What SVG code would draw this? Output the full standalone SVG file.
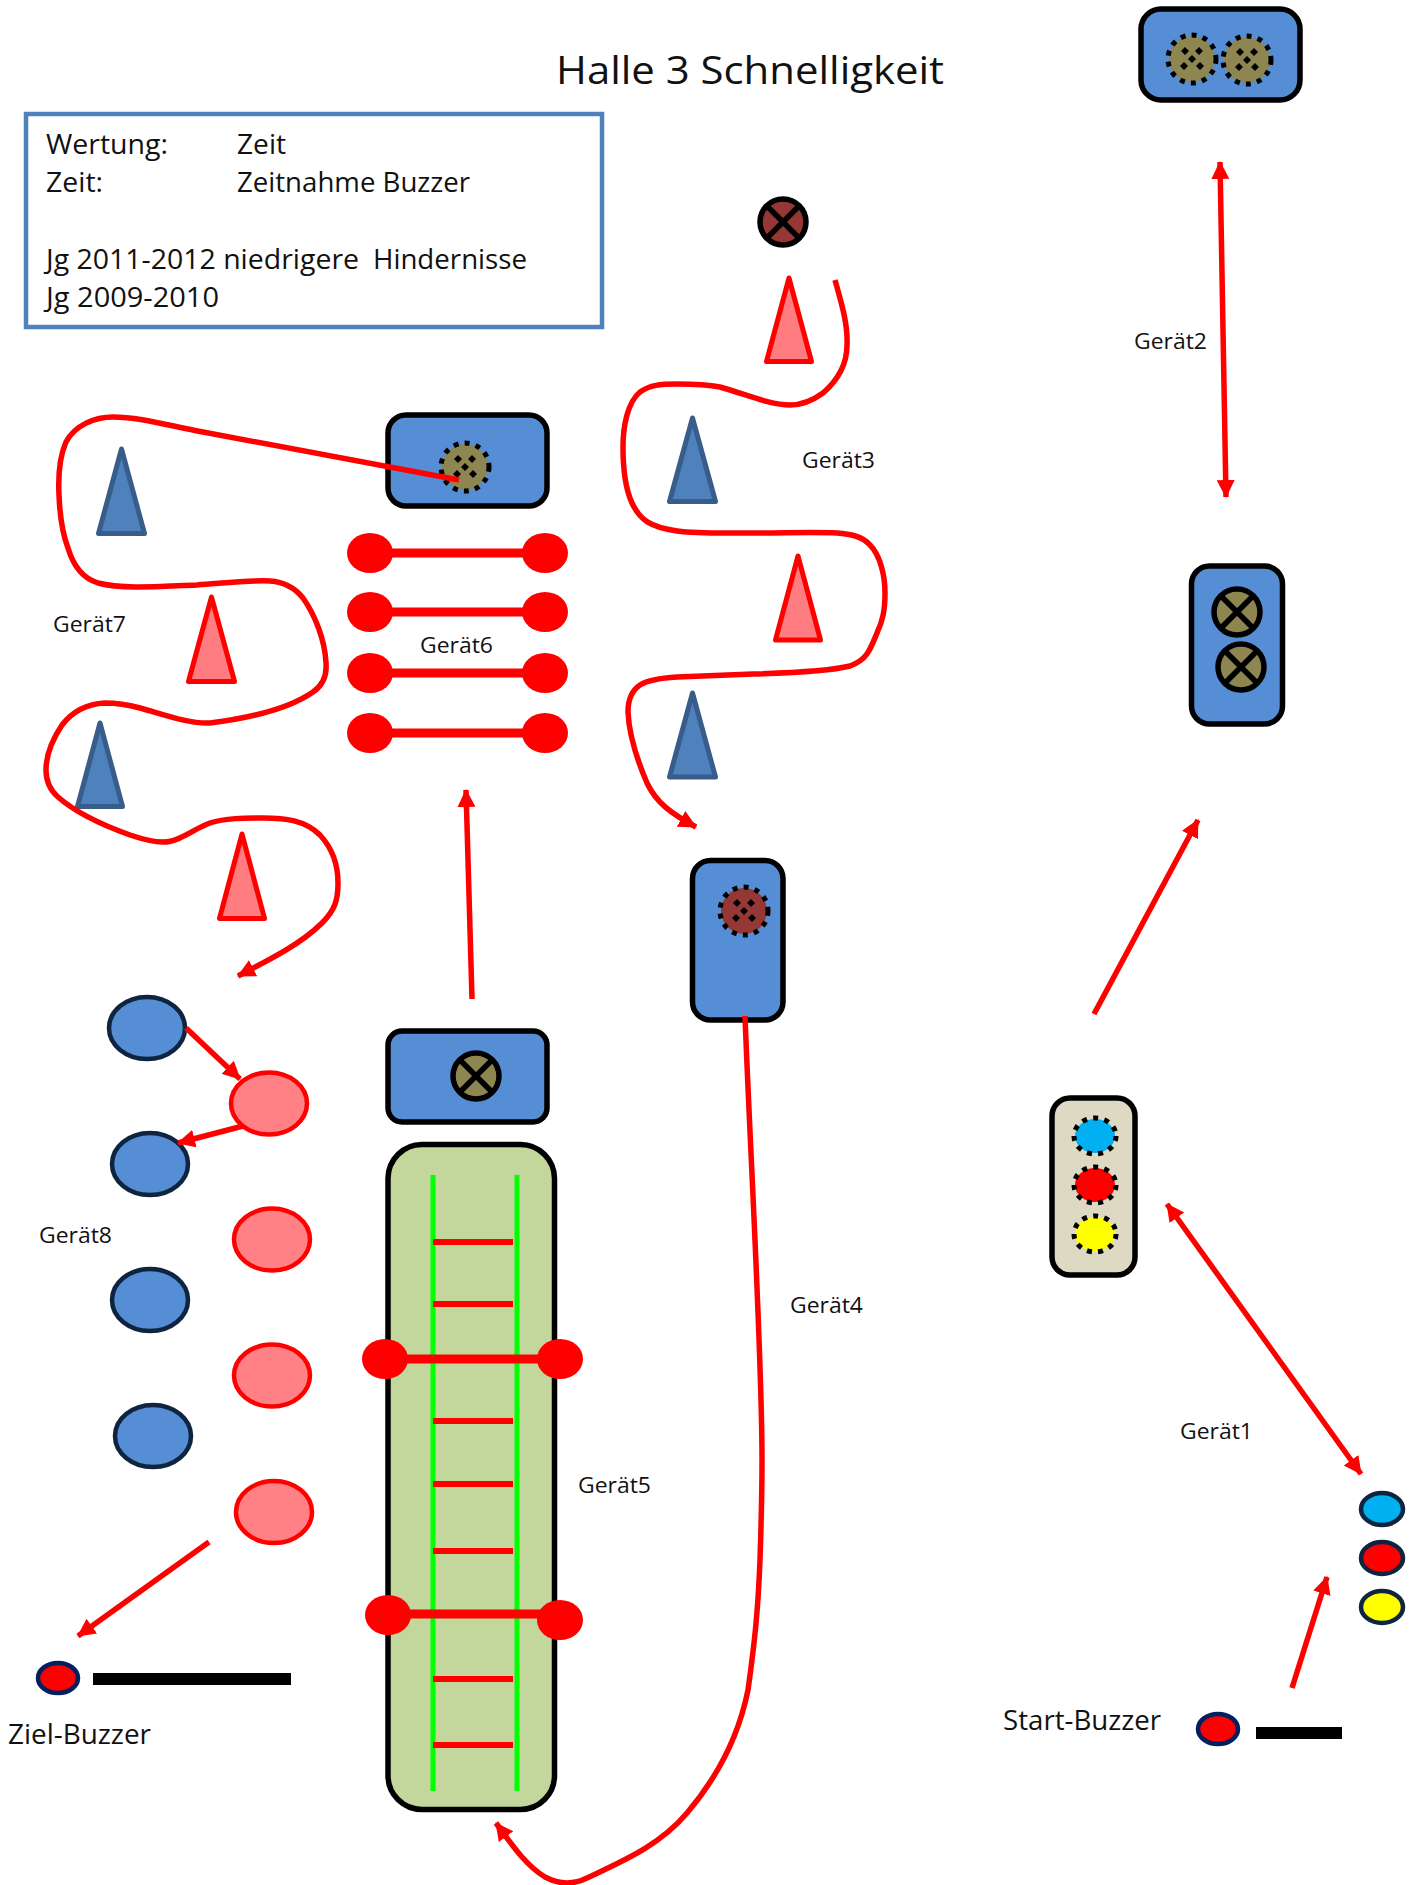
<svg xmlns="http://www.w3.org/2000/svg" width="1422" height="1885" viewBox="0 0 1422 1885">
<style>
text{font-family:"Open Sans","Noto Sans","Liberation Sans",sans-serif;fill:#111}
.t{font-size:39px}.b{font-size:28px}.g{font-size:22px}.l{font-size:27px}
.box{stroke:#000;stroke-width:5.5}
.blue{fill:#558ed5}
.con{fill:none;stroke:#f00;stroke-width:5.5;marker-end:url(#ah)}
.dbl{marker-start:url(#ah)}
.rc{fill:#ff7c80;stroke:#f00;stroke-width:5;stroke-linejoin:round}
.bc{fill:#4f81bd;stroke:#385d8a;stroke-width:5;stroke-linejoin:round}
.re{fill:#ff8085;stroke:#f00;stroke-width:4.5}
.be{fill:#558ed5;stroke:#0f243e;stroke-width:4.5}
.ds{fill:none;stroke:#000;stroke-width:5;stroke-dasharray:5 6.2}
.bz{stroke:#0f243e;stroke-width:4.5}
.bzn{stroke:#002060;stroke-width:4.5;fill:#f00}
.rl{stroke:#f00;stroke-width:9;fill:none}
.rf{fill:#f00}
.rung{stroke:#f00;stroke-width:6}
.gr{stroke:#0f0;stroke-width:5}
</style>
<defs>
<marker id="ah" markerUnits="userSpaceOnUse" markerWidth="20" markerHeight="20" refX="17" refY="9" orient="auto-start-reverse"><path d="M0,0L18,9L0,18Z" fill="#f00"/></marker>
<g id="dot"><circle r="23"/><circle r="24" class="ds"/><path fill="#000" d="M-7,-12l4,4l-4,4l-4,-4zM7,-12l4,4l-4,4l-4,-4zM0,-4l4,4l-4,4l-4,-4zM-8,3l4,4l-4,4l-4,-4zM8,3l4,4l-4,4l-4,-4z"/></g>
<g id="crs"><circle r="23" stroke="#000" stroke-width="5.5"/><path d="M-15,-15L15,15M15,-15L-15,15" stroke="#000" stroke-width="5.5"/></g>
</defs>

<text class="t" x="556" y="84" textLength="388" lengthAdjust="spacingAndGlyphs">Halle 3 Schnelligkeit</text>

<g id="info">
<rect x="26" y="114" width="576" height="213" fill="#fff" stroke="#4f81bd" stroke-width="4.5"/>
<text class="b" x="46" y="154" textLength="122" lengthAdjust="spacingAndGlyphs">Wertung:</text>
<text class="b" x="237" y="154" textLength="49" lengthAdjust="spacingAndGlyphs">Zeit</text>
<text class="b" x="46" y="192" textLength="57" lengthAdjust="spacingAndGlyphs">Zeit:</text>
<text class="b" x="237" y="192" textLength="233" lengthAdjust="spacingAndGlyphs">Zeitnahme Buzzer</text>
<text class="b" x="46" y="269" textLength="313" lengthAdjust="spacingAndGlyphs">Jg 2011-2012 niedrigere</text>
<text class="b" x="373" y="269" textLength="154" lengthAdjust="spacingAndGlyphs">Hindernisse</text>
<text class="b" x="46" y="307" textLength="173" lengthAdjust="spacingAndGlyphs">Jg 2009-2010</text>
</g>

<g id="node-top"><rect class="box blue" x="1141" y="9" width="159" height="91" rx="20"/><use href="#dot" x="1192" y="59" fill="#8e8651"/><use href="#dot" x="1247" y="60" fill="#8e8651"/></g>
<g id="node-right"><rect class="box blue" x="1191.5" y="566" width="91" height="158" rx="18"/><use href="#crs" x="1237" y="612" fill="#8e8651"/><use href="#crs" x="1241" y="667" fill="#8e8651"/></g>
<g id="node-beige"><rect class="box" fill="#ddd9c3" x="1052" y="1098" width="83" height="177" rx="18"/>
<ellipse cx="1095" cy="1136" rx="20" ry="17" fill="#00b0f0"/><ellipse cx="1095" cy="1136" rx="21" ry="18" class="ds"/>
<ellipse cx="1095" cy="1185" rx="20" ry="17" fill="#f00"/><ellipse cx="1095" cy="1185" rx="21" ry="18" class="ds"/>
<ellipse cx="1095" cy="1234" rx="20" ry="17" fill="#ff0"/><ellipse cx="1095" cy="1234" rx="21" ry="18" class="ds"/></g>
<g id="lights"><ellipse class="bz" cx="1382" cy="1509" rx="21" ry="16" fill="#00b0f0"/><ellipse class="bz" cx="1382" cy="1558" rx="21" ry="16" fill="#f00"/><ellipse class="bz" cx="1382" cy="1607" rx="21" ry="16" fill="#ff0"/></g>
<g id="start-buzzer"><ellipse class="bzn" cx="1218" cy="1729" rx="20" ry="15"/><rect x="1256" y="1727" width="86" height="12"/><text class="l" x="1003" y="1730" textLength="158" lengthAdjust="spacingAndGlyphs">Start-Buzzer</text></g>
<g id="ziel-buzzer"><ellipse class="bzn" cx="58" cy="1678" rx="20" ry="15"/><rect x="93" y="1673" width="198" height="12"/><text class="l" x="8" y="1744" textLength="143" lengthAdjust="spacingAndGlyphs">Ziel-Buzzer</text></g>

<g id="node-g4"><rect class="box blue" x="692.5" y="860.5" width="90.5" height="159.5" rx="18"/><use href="#dot" x="744" y="911" fill="#953735"/></g>
<g id="node-g3-end"><use href="#crs" x="783" y="222" fill="#953735"/></g>
<g id="node-g6"><rect class="box blue" x="388" y="415" width="159" height="91" rx="18"/><use href="#dot" x="465" y="467" fill="#8e8651"/></g>
<g id="node-g5"><rect class="box blue" x="388" y="1031" width="159" height="91" rx="14"/><use href="#crs" x="476" y="1076" fill="#8e8651"/></g>

<g id="cones">
<path class="rc" d="M789,278L766.5,361.5H811.5Z"/><path class="bc" d="M692.5,418L669.5,501.5H715.5Z"/><path class="rc" d="M798,556L775.5,640H820.5Z"/><path class="bc" d="M692.5,693L669.5,777H715.5Z"/>
<path class="bc" d="M121.5,449L98.5,533.5H144.5Z"/><path class="rc" d="M211.5,597L188.5,681.5H234.5Z"/><path class="bc" d="M100,723L77.5,806.5H122.5Z"/><path class="rc" d="M242,834L219.5,918.5H264.5Z"/>
</g>
<g id="hurdles">
<path class="rl" d="M370,553H545M370,612H545M370,673H545M370,733H545"/>
<ellipse class="rf" cx="370" cy="553" rx="23" ry="20"/><ellipse class="rf" cx="545" cy="553" rx="23" ry="20"/>
<ellipse class="rf" cx="370" cy="612" rx="23" ry="20"/><ellipse class="rf" cx="545" cy="612" rx="23" ry="20"/>
<ellipse class="rf" cx="370" cy="673" rx="23" ry="20"/><ellipse class="rf" cx="545" cy="673" rx="23" ry="20"/>
<ellipse class="rf" cx="370" cy="733" rx="23" ry="20"/><ellipse class="rf" cx="545" cy="733" rx="23" ry="20"/>
</g>
<g id="ladder">
<rect class="box" fill="#c3d69b" x="388" y="1144.5" width="166.5" height="665" rx="34"/>
<path class="gr" d="M433,1175V1791M517,1175V1791"/>
<path class="rung" d="M433,1242H513M433,1304H513M433,1421H513M433,1484H513M433,1551H513M433,1679H513M433,1745H513"/>
<path class="rl" d="M385,1359H560M388,1614H560"/>
<ellipse class="rf" cx="385" cy="1359" rx="23" ry="20"/><ellipse class="rf" cx="560" cy="1359" rx="23" ry="20"/>
<ellipse class="rf" cx="388" cy="1615" rx="23" ry="20"/><ellipse class="rf" cx="560" cy="1620" rx="23" ry="20"/>
</g>
<g id="slalom-ovals">
<ellipse class="be" cx="147" cy="1028" rx="38" ry="31"/><ellipse class="be" cx="150" cy="1164" rx="38" ry="31"/><ellipse class="be" cx="150" cy="1300" rx="38" ry="31"/><ellipse class="be" cx="153" cy="1436" rx="38" ry="31"/>
<ellipse class="re" cx="269" cy="1103.5" rx="38" ry="31"/><ellipse class="re" cx="272" cy="1239.5" rx="38" ry="31"/><ellipse class="re" cx="272" cy="1375.5" rx="38" ry="31"/><ellipse class="re" cx="274" cy="1512" rx="38" ry="31"/>
</g>

<g id="labels">
<text class="g" x="1134" y="349" textLength="73" lengthAdjust="spacingAndGlyphs">Gerät2</text><text class="g" x="802" y="468" textLength="73" lengthAdjust="spacingAndGlyphs">Gerät3</text><text class="g" x="53" y="632" textLength="73" lengthAdjust="spacingAndGlyphs">Gerät7</text><text class="g" x="420" y="653" textLength="73" lengthAdjust="spacingAndGlyphs">Gerät6</text><text class="g" x="790" y="1313" textLength="73" lengthAdjust="spacingAndGlyphs">Gerät4</text><text class="g" x="578" y="1493" textLength="73" lengthAdjust="spacingAndGlyphs">Gerät5</text><text class="g" x="39" y="1243" textLength="73" lengthAdjust="spacingAndGlyphs">Gerät8</text><text class="g" x="1180" y="1439" textLength="73" lengthAdjust="spacingAndGlyphs">Gerät1</text>
</g>

<g id="connectors">
<path class="con dbl" d="M1220,162L1226,497"/>
<path class="con" d="M1094,1014L1198,820"/>
<path class="con dbl" d="M1167,1204L1361,1474"/>
<path class="con" d="M1292,1688L1327,1577"/>
<path class="con" d="M472,999L466,790"/>
<path class="con" d="M186,1028L240,1079"/>
<path class="con" d="M243,1126L178,1143"/>
<path class="con" d="M209,1542L78,1636"/>
<path class="con" d="M745,1016C750,1150 762,1350 762,1460C762,1500 761,1530 760,1560C758,1610 755,1640 748,1690C738,1740 715,1780 687,1813C660,1845 625,1860 587,1878C575,1884 560,1885 545,1877C525,1865 510,1842 496,1823"/>
<path class="con" d="M835,280C842,305 848,325 847,345C847,365 838,380 823,393C812,401 800,405 790,405C770,405 745,394 720,387C705,384 690,384 677,384C660,384 650,385 640,392C628,402 623,425 623,447C623,470 626,490 632,503C640,520 650,527 677,531C700,534 725,533 753,533C785,533 815,532 837,533C850,534 862,536 870,545C880,555 885,575 885,593C885,610 883,620 877,633C870,650 867,660 850,666C830,671 790,673 753,674C725,675 700,676 677,677C660,678 648,680 640,685C631,691 628,700 628,712C629,735 638,762 647,783C656,802 670,813 696,827"/>
<path class="con" d="M459,480L203,432C170,426 140,417 113,417C95,417 75,425 66,442C59,458 58,475 59,495C60,520 63,535 68,548C73,565 82,578 98,583C125,590 165,586 197,585C225,583 250,580 270,581C285,582 295,588 303,598C315,615 325,640 326,663C327,675 323,685 313,692C290,708 250,718 210,723C190,724 165,715 140,708C125,704 115,703 105,703C85,704 72,712 62,725C52,740 46,755 46,770C46,782 50,790 58,797C75,812 105,826 130,835C145,840 155,842 163,842C180,842 195,828 210,823C225,818 245,818 263,818C285,818 305,820 320,835C332,848 338,865 338,883C338,900 335,910 322,923C300,945 265,962 238,976"/>
</g>
</svg>
